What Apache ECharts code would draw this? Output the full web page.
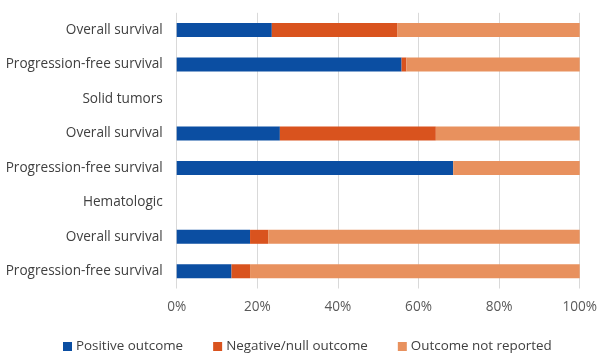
<!DOCTYPE html>
<html>
<head>
<meta charset="utf-8">
<script src="https://cdn.jsdelivr.net/npm/echarts@6/dist/echarts.min.js"></script>
<style>html,body{margin:0;padding:0;background:#fff;}#c{width:600px;height:356px;}</style>
</head>
<body>
<div id="c"></div>
<script>
var categories = ['Overall survival', 'Progression-free survival', 'Solid tumors', 'Overall survival', 'Progression-free survival', 'Hematologic', 'Overall survival', 'Progression-free survival'];
var positive = [23.6, 55.8, null, 25.6, 68.6, null, 18.2, 13.6];
var negative = [31.2, 1.2, null, 38.7, 0, null, 4.5, 4.6];
var notReported = [45.2, 43.0, null, 35.7, 31.4, null, 77.3, 81.8];
var seriesNames = ['Positive outcome', 'Negative/null outcome', 'Outcome not reported'];
var xTicks = [0, 20, 40, 60, 80, 100];

var font = 'Open Sans';
var chart = echarts.init(document.getElementById('c'), null, {renderer: 'canvas'});
function mk(name, data, color) {
  return {
    name: name, type: 'bar', stack: 'total', data: data, barWidth: 14,
    itemStyle: {color: color}, animation: false
  };
}
chart.setOption({
  animation: false,
  textStyle: {fontFamily: font},
  grid: {left: 176.7, right: 20, top: 12.8, bottom: 67.5, containLabel: false},
  legend: {
    left: 58, top: 335, padding: 5, itemWidth: 9, itemHeight: 9, itemGap: 30, icon: 'rect',
    textStyle: {fontFamily: font, fontSize: 13.4, color: '#404040', padding: [0, 0, 0, -1]},
    data: seriesNames
  },
  xAxis: {
    type: 'value', min: xTicks[0], max: xTicks[xTicks.length - 1], interval: 20,
    axisLine: {show: false}, axisTick: {show: false},
    axisLabel: {formatter: '{value}%', fontFamily: font, fontSize: 13.6, color: '#595959', margin: 12},
    splitLine: {show: true, lineStyle: {color: '#d9d9d9', width: 1}}
  },
  yAxis: {
    type: 'category', data: categories, inverse: true,
    axisLine: {show: false}, axisTick: {show: false},
    axisLabel: {fontFamily: font, fontSize: 13.6, color: '#404040', margin: 14}
  },
  series: [
    mk(seriesNames[0], positive, '#0b4ea2'),
    mk(seriesNames[1], negative, '#d9531e'),
    mk(seriesNames[2], notReported, '#e8915e')
  ]
});
</script>
</body>
</html>
